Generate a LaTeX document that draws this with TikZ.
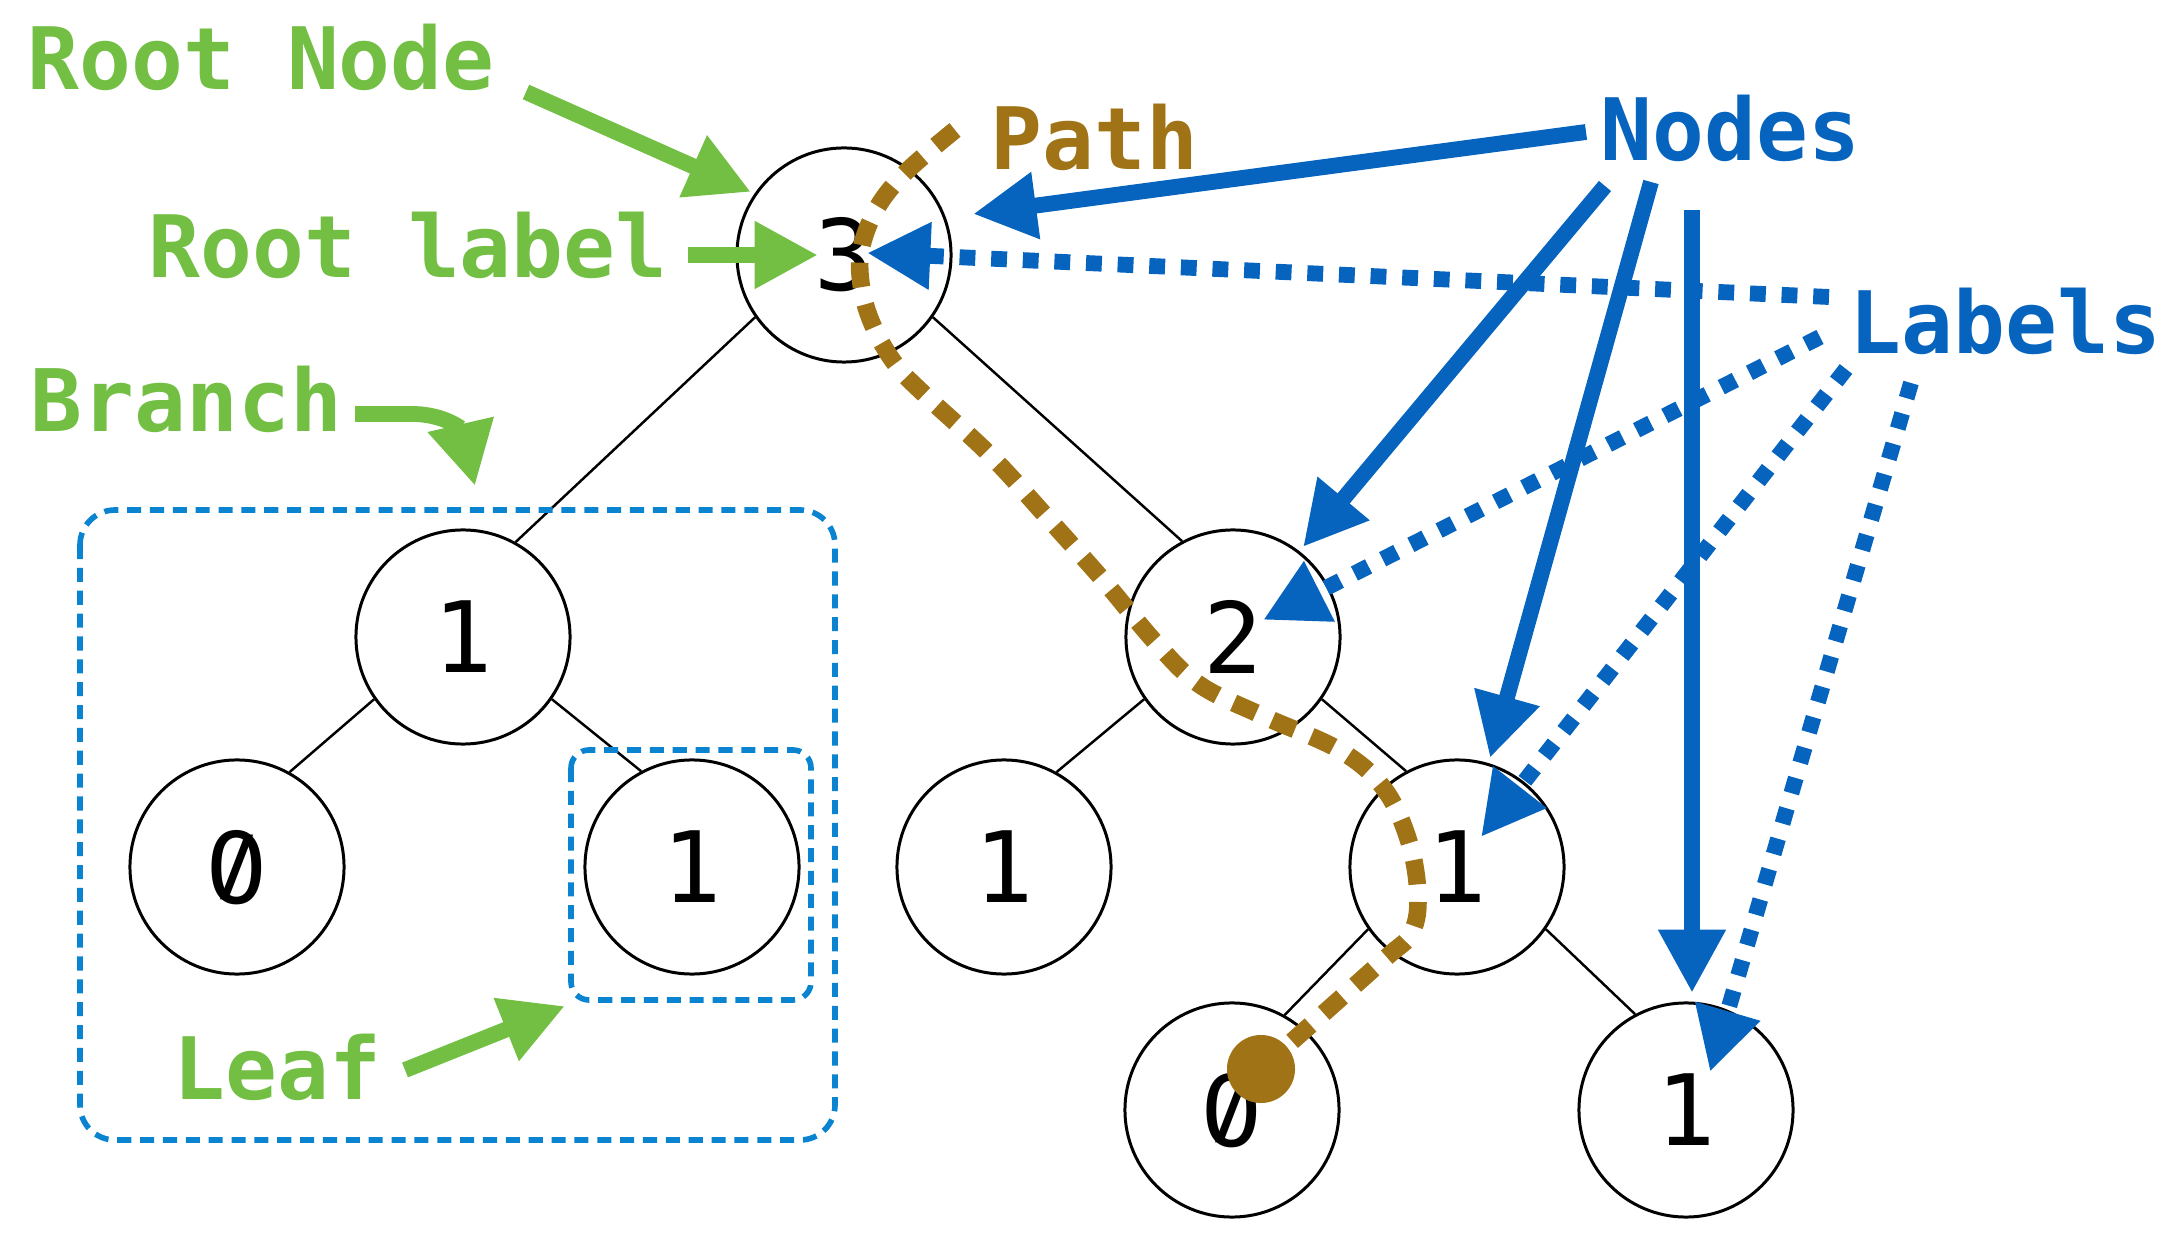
\documentclass[tikz,border=0pt]{standalone}
\usepackage{fontspec}
\usepackage{graphicx}
\usepackage{tikz}
\usetikzlibrary{arrows.meta}
\newfontfamily\dejamono{DejaVu Sans Mono}
\newfontfamily\dejasans{DejaVu Sans}
\newcommand{\slzero}{{\dejasans\ooalign{\hfil0\hfil\cr
	\hfil\raisebox{0.11em}{\scalebox{1}[0.8]{/}}\hfil\cr}}}
\definecolor{leafgreen}{RGB}{114,191,68}
\definecolor{treeblue}{RGB}{6,100,190}
\definecolor{boxblue}{RGB}{10,132,208}
\definecolor{pathbrown}{RGB}{160,116,22}

\begin{document}
\begin{tikzpicture}[x=0.01cm, y=-0.01cm,
	tn/.style={circle, draw, line width=0.85pt, minimum size=2.14cm, inner sep=0pt,
		font=\dejamono\fontsize{28}{30}\selectfont},
	edge/.style={line width=0.7pt},
	lbl/.style={anchor=base west, inner sep=0pt,
		font=\dejamono\bfseries\fontsize{24.5}{28}\selectfont},
	grn/.style={leafgreen, line width=4.5pt, -{Triangle[length=18pt, width=18pt]}},
	bluearrow/.style={treeblue, line width=4.5pt, -{Triangle[length=18pt, width=18pt]}},
	bluedots/.style={bluearrow, dash pattern=on 4.5pt off 4.5pt},
	dashbox/.style={boxblue, line width=1.6pt, dash pattern=on 4pt off 2.5pt},
	pathdots/.style={pathbrown, line width=5pt, dash pattern=on 7pt off 5pt}]
	\useasboundingbox (0,0) rectangle (2163,1237);
	%
	\node [tn] (root) at (844,255) {3};
	\node [tn] (b1) at (463,637) {1};
	\node [tn] (b1l) at (237,867) {\slzero};
	\node [tn] (b1r) at (692,867) {1};
	\node [tn] (b2) at (1233,637) {2};
	\node [tn] (b2l) at (1004,867) {1};
	\node [tn] (b2r) at (1457,867) {1};
	\node [tn] (b2rl) at (1232,1110) {\slzero};
	\node [tn] (b2rr) at (1686,1110) {1};
	\draw [edge] (root.215) -- (b1.61);
	\draw [edge] (root.325) -- (b2.118);
	\draw [edge] (b1.215) -- (b1l.61);
	\draw [edge] (b1.325) -- (b1r.118);
	\draw [edge] (b2.215) -- (b2l.61);
	\draw [edge] (b2.325) -- (b2r.118);
	\draw [edge] (b2r.215) -- (b2rl.61);
	\draw [edge] (b2r.325) -- (b2rr.118);
	%
	\draw [dashbox, rounded corners=0.35cm] (80,510) rectangle (835,1140);
	\draw [dashbox, rounded corners=0.18cm] (571,750) rectangle (811,1000);
	%
	\node [lbl, leafgreen] (rootnode) at (27,90) {Root Node};
	\node [lbl, leafgreen] (rootlabel) at (148,278) {Root label};
	\node [lbl, leafgreen] (branch) at (30,432) {Branch};
	\node [lbl, leafgreen] (leaf) at (173,1100) {Leaf};
	\node [lbl, pathbrown] (path) at (990,170) {Path};
	\node [lbl, treeblue] (nodes) at (1600,161) {Nodes};
	\node [lbl, treeblue] (labels) at (1849,354) {Labels};
	%
	\coordinate (rootnodeTail) at (526,92);
	\coordinate (rootnodeTip) at (751,192);
	\coordinate (rootlabelTail) at (688,255);
	\coordinate (rootlabelTip) at (818,255);
	\coordinate (branchTail) at (355,414);
	\coordinate (branchTip) at (475,486);
	\coordinate (leafTail) at (405,1070);
	\coordinate (leafTip) at (565,1006);
	\draw [grn] (rootnodeTail) -- (rootnodeTip);
	\draw [grn] (rootlabelTail) -- (rootlabelTip);
	\draw [grn] (branchTail) -- (412,414) .. controls (445,414) and (462,430) .. (branchTip);
	\draw [grn] (leafTail) -- (leafTip);
	%
	\coordinate (nodesA) at (1586,132);
	\coordinate (nodesB) at (1605,186);
	\coordinate (nodesC) at (1651,182);
	\coordinate (nodesD) at (1692,210);
	\coordinate (rootTip) at (973,214);
	\coordinate (b2Tip) at (1303,547);
	\coordinate (b2rTip) at (1490,758);
	\coordinate (b2rrTip) at (1692,993);
	\draw [bluearrow] (nodesA) -- (rootTip);
	\draw [bluearrow] (nodesB) -- (b2Tip);
	\draw [bluearrow] (nodesC) -- (b2rTip);
	\draw [bluearrow] (nodesD) -- (b2rrTip);
	%
	\coordinate (labelsA) at (1829,297);
	\coordinate (labelsB) at (1820,337);
	\coordinate (labelsC) at (1846,369);
	\coordinate (labelsD) at (1911,383);
	\coordinate (rootLblTip) at (867,253);
	\coordinate (b2LblTip) at (1263,620);
	\coordinate (b2rLblTip) at (1481,837);
	\coordinate (b2rrLblTip) at (1710,1072);
	\draw [bluedots] (labelsA) -- (rootLblTip);
	\draw [bluedots] (labelsB) -- (b2LblTip);
	\draw [bluedots] (labelsC) -- (b2rLblTip);
	\draw [bluedots] (labelsD) -- (b2rrLblTip);
	%
	\coordinate (pathEnd) at (1261,1069);
	\draw [pathdots] plot [smooth, tension=0.6] coordinates {(955,130) (906,172) (877,208)
		(861,250) (862,290) (874,328) (896,365) (925,395) (990,455) (1045,515) (1103,580)
		(1156,643) (1200,685) (1263,716) (1341,751) (1385,790) (1410,845) (1418,900)
		(1410,935) (1380,963) (pathEnd)};
	\fill [pathbrown] (pathEnd) circle (0.34cm);
\end{tikzpicture}
\end{document}
